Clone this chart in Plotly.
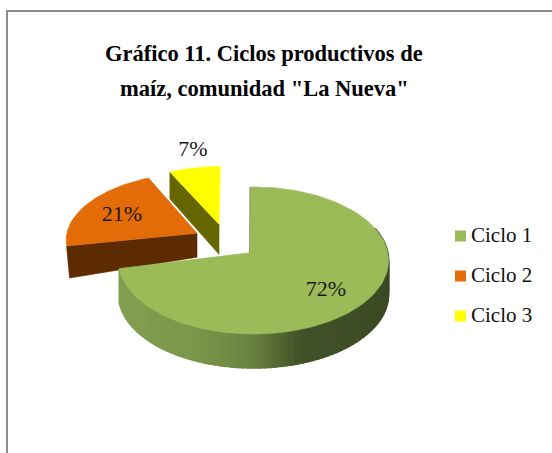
import math
import plotly.graph_objects as go

# --- data ---
categories = ["Ciclo 1", "Ciclo 2", "Ciclo 3"]
shares = [72, 21, 7]
title_lines = ["Gráfico 11. Ciclos productivos de", 'maíz, comunidad "La Nueva"']

# --- style / geometry ---
W, H = 552, 453
SERIF = "Liberation Serif"
top_colors = ["#9BBB59", "#E36C09", "#FFFF00"]
cut_colors = ["#3D4B25", "#5C2B02", "#666600"]
vertex = (250, 252.7)       # apex of the un-exploded pie
arc_dx = 3.5                # perspective shift of the arc centre
rx, ry, k = 134.3, 72.7, 0.106
explode = [(0, 0), (-53, -19.5), (-31, -28.4)]
scale_x = [1.0, 0.995, 0.97]
scale_y = [1.0, 0.92, 0.88]
angle_tweak = [-1.5, 0.0, -1.0]
depth = [34, 32, 27]
depth_apex = [0, 24, 30]
label_pos = [(326, 290), (122, 215.5), (193, 150)]
legend_y = [236.5, 276.5, 316.5]

fig = go.Figure()


def poly(xs, ys, color, lw=0.6):
    fig.add_trace(go.Scatter(
        x=xs, y=ys, mode="lines", fill="toself", fillcolor=color,
        line=dict(color=color, width=lw), hoverinfo="skip", showlegend=False))


def arc(i, a0, a1, n):
    vx, vy = vertex[0] + explode[i][0], vertex[1] + explode[i][1]
    pts = []
    for j in range(n + 1):
        t = math.radians(a0 + (a1 - a0) * j / n + angle_tweak[i])
        ux, uy = math.sin(t), math.cos(t)
        d = 1 + k * uy
        pts.append((vx + scale_x[i] * (arc_dx + rx * ux / d), vy - scale_y[i] * ry * uy / d))
    return (vx, vy), pts


def side_color(x):
    stops = [(119, (130, 160, 80)), (200, (122, 150, 74)), (250, (106, 130, 64)),
             (300, (66, 82, 40)), (388, (60, 74, 36))]
    for (x0, c0), (x1, c1) in zip(stops, stops[1:]):
        if x <= x1:
            f = max(0, (x - x0) / (x1 - x0))
            return "rgb(%d,%d,%d)" % tuple(round(c0[m] + (c1[m] - c0[m]) * f) for m in range(3))
    return "rgb(60,74,36)"


# cumulative angles from the values
total = sum(shares)
starts, ends = [], []
acc = 0
for v in shares:
    starts.append(acc / total * 360)
    acc += v
    ends.append(acc / total * 360)

for i in [1, 2, 0]:
    apex, pts = arc(i, starts[i], ends[i], 120)
    if i == 0:
        # curved gradient wall of the big slice, only the part facing the viewer
        step = 1
        for j in range(0, len(pts) - step, step):
            (x0, y0), (x1, y1) = pts[j], pts[j + step]
            if max(y0, y1) > vertex[1] - 22:
                poly([x0, x1, x1, x0, x0], [y0, y1, y1 + depth[i], y0 + depth[i], y0],
                     side_color((x0 + x1) / 2), lw=1.5)
        fig.add_trace(go.Scatter(x=[apex[0], pts[0][0]], y=[apex[1], pts[0][1]], mode="lines",
                                 line=dict(color=cut_colors[0], width=1.2),
                                 hoverinfo="skip", showlegend=False))
    else:
        p = pts[0]
        poly([apex[0], p[0], p[0] + (3 if i == 1 else 0), apex[0], apex[0]],
             [apex[1], p[1], p[1] + depth[i], apex[1] + depth_apex[i], apex[1]], cut_colors[i])
    poly([apex[0]] + [q[0] for q in pts] + [apex[0]],
         [apex[1]] + [q[1] for q in pts] + [apex[1]], top_colors[i])

# percentage labels
fig.add_trace(go.Scatter(
    x=[p[0] for p in label_pos], y=[p[1] for p in label_pos], mode="text",
    text=[f"{v}%" for v in shares], textposition="middle center",
    textfont=dict(family=SERIF, size=22, color="#1a1a1a"),
    hoverinfo="skip", showlegend=False))

# legend swatches and names
fig.add_trace(go.Scatter(
    x=[460.5] * 3, y=[236, 276, 316], mode="markers",
    marker=dict(symbol="square", size=11, color=top_colors, line=dict(width=0)),
    hoverinfo="skip", showlegend=False))
fig.add_trace(go.Scatter(
    x=[471] * 3, y=legend_y, mode="text",
    text=categories, textposition="middle right",
    textfont=dict(family=SERIF, size=21, color="#111111"),
    hoverinfo="skip", showlegend=False))

annotations = [
    dict(x=264, y=y, xref="x", yref="y", text=f"<b>{t}</b>", showarrow=False,
         xanchor="center", yanchor="middle",
         font=dict(family=SERIF, size=22.5, color="#000000"))
    for t, y in zip(title_lines, [53, 88])
]

fig.update_layout(
    width=W, height=H, autosize=False,
    margin=dict(l=0, r=0, t=0, b=0),
    paper_bgcolor="white", plot_bgcolor="white",
    xaxis=dict(range=[0, W], visible=False, fixedrange=True),
    yaxis=dict(range=[H, 0], visible=False, fixedrange=True),
    showlegend=False,
    annotations=annotations,
    shapes=[
        dict(type="line", xref="x", yref="y", x0=7, x1=7, y0=11, y1=H,
             line=dict(color="#8C8C8C", width=2)),
        dict(type="line", xref="x", yref="y", x0=6, x1=W, y0=11, y1=11,
             line=dict(color="#8C8C8C", width=2)),
    ],
)
fig.write_html("out.html", config=dict(displayModeBar=False),
               post_script="document.body.style.margin='0';document.body.style.overflow='hidden';")
